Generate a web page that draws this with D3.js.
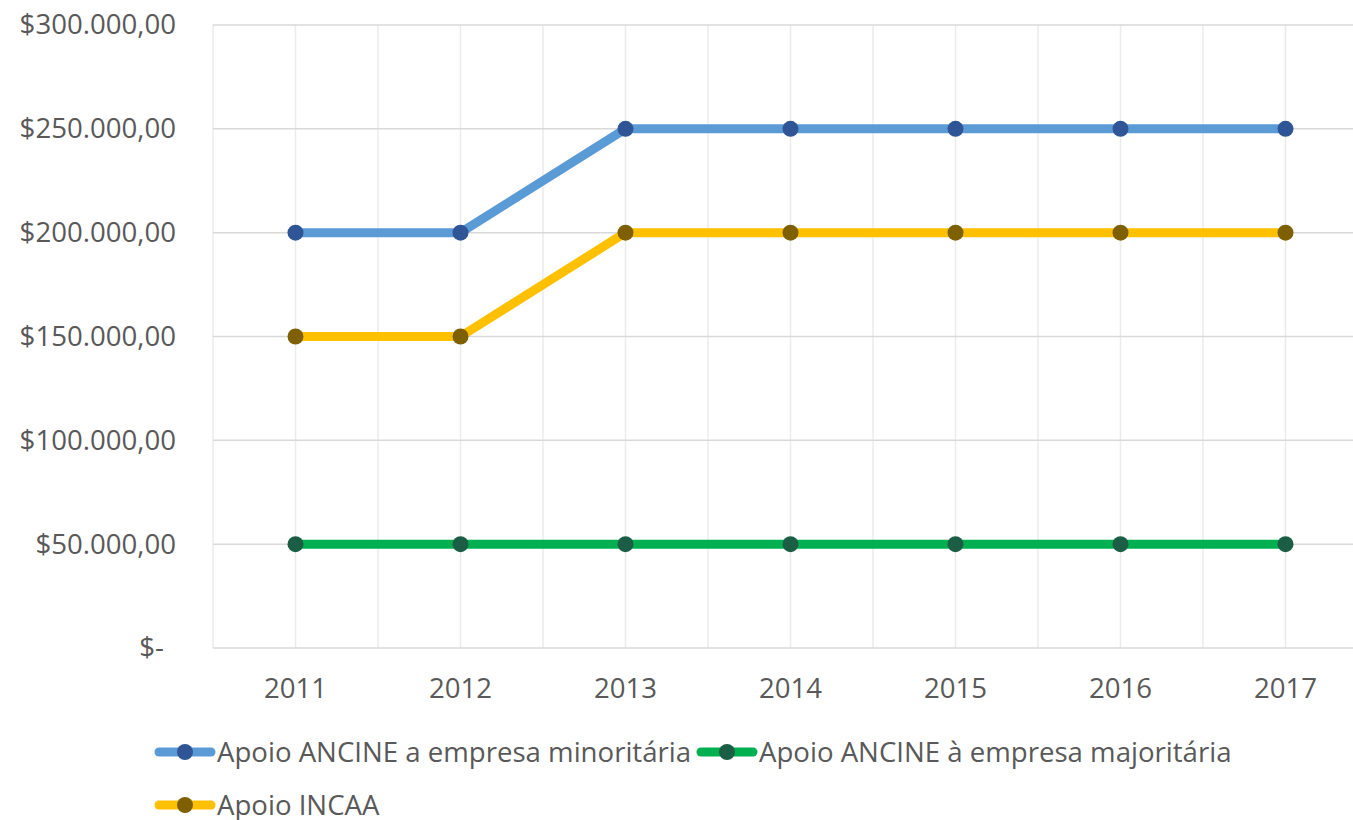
<!DOCTYPE html>
<html>
<head>
<meta charset="utf-8">
<script src="https://cdn.jsdelivr.net/npm/d3@7"></script>
<style>
  body { margin: 0; background: #fff; }
  text { font-family: "Open Sans", sans-serif; fill: #595959; }
</style>
</head>
<body>
<div id="grafico"></div>
<script>
// Datos del gráfico
var anos = ["2011", "2012", "2013", "2014", "2015", "2016", "2017"];
var ancineMinoritaria = [200000, 200000, 250000, 250000, 250000, 250000, 250000];
var ancineMajoritaria = [50000, 50000, 50000, 50000, 50000, 50000, 50000];
var incaa = [150000, 150000, 200000, 200000, 200000, 200000, 200000];
var yTicks = [0, 50000, 100000, 150000, 200000, 250000, 300000];

var series = [
    { nome: "Apoio ANCINE a empresa minoritária", valores: ancineMinoritaria, cor: "#5B9BD5", marcador: "#2F5597" },
    { nome: "Apoio ANCINE à empresa majoritária", valores: ancineMajoritaria, cor: "#00B050", marcador: "#1B5E45" },
    { nome: "Apoio INCAA", valores: incaa, cor: "#FFC000", marcador: "#7F6000" }
];

var width = 1353, height = 820;
var mEsq = 213, mDir = 1368, mTopo = 25, mBase = 648;
var tamFonte = "27.6px";

var svg = d3.select("#grafico").append("svg")
    .attr("width", width)
    .attr("height", height);

var x = d3.scaleBand().domain(anos).range([mEsq, mDir]);
var y = d3.scaleLinear().domain([0, 300000]).range([mBase, mTopo]);

// formato moeda tipo Excel
function formato(v) {
    if (v === 0) return "$-";
    return "$" + d3.format(",.2f")(v).replace(/,/g, "#").replace(".", ",").replace(/#/g, ".");
}

// linhas de grade verticais (bordas e centros das categorias)
var vx = [];
anos.forEach(function (a) { vx.push(x(a)); vx.push(x(a) + x.bandwidth() / 2); });
svg.append("g").selectAll("line").data(vx).enter().append("line")
    .attr("x1", d => d).attr("x2", d => d)
    .attr("y1", mTopo).attr("y2", mBase)
    .attr("stroke", "#EBEBEB").attr("stroke-width", 1.5);

// linhas de grade horizontais
svg.append("g").selectAll("line").data(yTicks).enter().append("line")
    .attr("x1", mEsq).attr("x2", mDir)
    .attr("y1", d => y(d)).attr("y2", d => y(d))
    .attr("stroke", "#D9D9D9").attr("stroke-width", 1.5);

// eixo Y
var eixoY = svg.append("g")
    .attr("transform", "translate(176,0)")
    .call(d3.axisLeft(y).tickValues(yTicks).tickFormat(formato).tickSize(0).tickPadding(0));
eixoY.select(".domain").remove();
eixoY.selectAll("text")
    .style("font-size", tamFonte)
    .attr("fill", "#595959")
    .attr("dx", d => d === 0 ? -12 : 0);

// eixo X
var eixoX = svg.append("g")
    .attr("transform", "translate(0," + mBase + ")")
    .call(d3.axisBottom(x).tickSize(0).tickPadding(30));
eixoX.select(".domain").remove();
eixoX.selectAll("text")
    .style("font-size", tamFonte)
    .attr("fill", "#595959");

// linhas das séries
var linha = d3.line()
    .x((d, i) => x(anos[i]) + x.bandwidth() / 2)
    .y(d => y(d));

series.forEach(function (s) {
    svg.append("path")
        .datum(s.valores)
        .attr("d", linha)
        .attr("fill", "none")
        .attr("stroke", s.cor)
        .attr("stroke-width", 9)
        .attr("stroke-linejoin", "round");
});

series.forEach(function (s) {
    svg.append("g").selectAll("circle").data(s.valores).enter().append("circle")
        .attr("cx", (d, i) => x(anos[i]) + x.bandwidth() / 2)
        .attr("cy", d => y(d))
        .attr("r", 8)
        .attr("fill", s.marcador);
});

// legenda
var posLegenda = [[155, 752], [697, 752], [155, 805]];
var legenda = svg.selectAll(".legend")
    .data(series)
    .enter()
    .append("g")
    .attr("class", "legend")
    .attr("transform", (d, i) => "translate(" + posLegenda[i][0] + "," + posLegenda[i][1] + ")");

legenda.append("line")
    .attr("x1", 4).attr("x2", 56)
    .attr("stroke", d => d.cor)
    .attr("stroke-width", 9)
    .attr("stroke-linecap", "round");

legenda.append("circle")
    .attr("cx", 30).attr("r", 8)
    .attr("fill", d => d.marcador);

legenda.append("text")
    .attr("x", 62)
    .attr("dy", "0.35em")
    .style("font-size", tamFonte)
    .text(d => d.nome);
</script>
</body>
</html>
